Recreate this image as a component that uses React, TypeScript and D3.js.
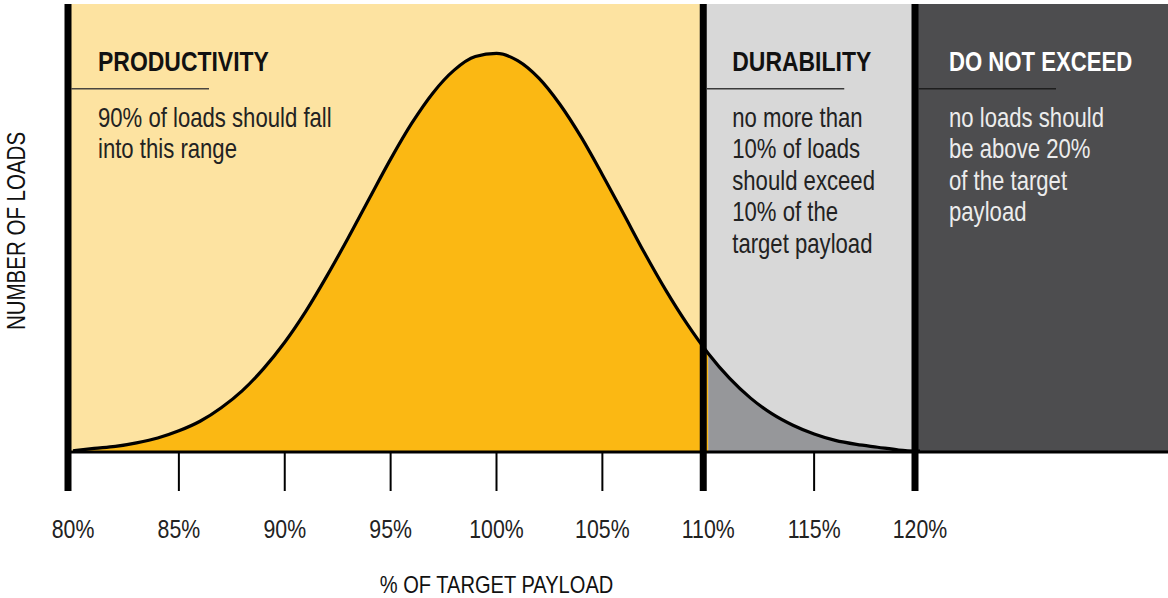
import React, { useEffect, useRef } from 'react';
import * as d3 from 'd3';

// payload as % of target, and the relative number of loads
const payloadPct = [
  80, 81, 82, 83, 84, 85, 86, 87, 88, 89,
  90, 91, 92, 93, 94, 95, 96, 97, 98, 99,
  100, 101, 102, 103, 104, 105, 106, 107, 108, 109,
  110, 111, 112, 113, 114, 115, 116, 117, 118, 119,
  120,
];
const loadCount = [
  0.3, 0.9, 1.4, 2.3, 3.5, 5.3, 7.7, 11.1, 15.4, 20.9,
  27.5, 35.3, 44.2, 53.7, 63.6, 73.4, 82.4, 90.0, 95.7, 99.1,
  99.9, 98.1, 93.7, 87.1, 78.9, 69.5, 59.7, 49.8, 40.5, 32.1,
  24.7, 18.5, 13.5, 9.6, 6.7, 4.5, 2.9, 1.9, 1.2, 0.5,
  0.2,
];

const tickValues = [80, 85, 90, 95, 100, 105, 110, 115, 120];
const tickLabels = ['80%', '85%', '90%', '95%', '100%', '105%', '110%', '115%', '120%'];

const zoneNames = ['PRODUCTIVITY', 'DURABILITY', 'DO NOT EXCEED'];
const zoneStart = [80, 110, 120];
const zoneNotes = [
  ['90% of loads should fall', 'into this range'],
  ['no more than', '10% of loads', 'should exceed', '10% of the', 'target payload'],
  ['no loads should', 'be above 20%', 'of the target', 'payload'],
];

const xTitle = '% OF TARGET PAYLOAD';
const yTitle = 'NUMBER OF LOADS';

const W = 1168;
const H = 598;
const FONT = '"Liberation Sans", Arial, sans-serif';
const NARROW = 0.82; // squeeze to look like a condensed face

const panelFill = ['#fde3a1', '#d8d8d8', '#4d4d4f'];
const areaFill = ['#fbb813', '#96979a'];
const titleColor = ['#111', '#111', '#fff'];
const noteColor = ['#222', '#222', '#ececec'];
const ruleColor = ['#4a4640', '#3a3a3a', '#1e1e1e'];
const textPad = [30, 29, 34];

// text drawn with a horizontal squeeze, anchored at (x, y)
function narrowText(parent: any, x: number, y: number, str: string, rotate = 0) {
  return parent.append('text')
    .attr('transform', `translate(${x},${y}) rotate(${rotate}) scale(${NARROW},1)`)
    .attr('font-family', FONT)
    .text(str);
}

export default function App() {
  const svgRef = useRef<SVGSVGElement>(null);

  useEffect(() => {
    const svg = d3.select(svgRef.current);
    svg.selectAll('*').remove();

    const top = 4;
    const base = 452;
    const tickBottom = 491;
    const x = d3.scaleLinear().domain([80, 120]).range([73, 920]);
    const y = d3.scaleLinear().domain([0, 100]).range([base, 53]);
    const divider = (v: number) => x(v) - 5;

    const data = payloadPct.map((p, i) => ({ p, n: loadCount[i] }));

    // background zones
    zoneStart.forEach((s, i) => {
      const x0 = divider(s);
      const x1 = i < zoneStart.length - 1 ? divider(zoneStart[i + 1]) : W;
      svg.append('rect')
        .attr('x', x0).attr('y', top)
        .attr('width', x1 - x0).attr('height', base - top)
        .attr('fill', panelFill[i]);
    });

    // filled area under the curve, split at 110%
    const area = d3.area<any>()
      .x(d => x(d.p))
      .y0(base)
      .y1(d => y(d.n))
      .curve(d3.curveMonotoneX);
    svg.append('path')
      .datum(data.filter(d => d.p <= 110))
      .attr('d', area)
      .attr('fill', areaFill[0]);
    svg.append('path')
      .datum(data.filter(d => d.p >= 110))
      .attr('d', area)
      .attr('fill', areaFill[1]);

    const line = d3.line<any>()
      .x(d => x(d.p))
      .y(d => y(d.n))
      .curve(d3.curveMonotoneX);
    svg.append('path')
      .datum(data)
      .attr('d', line)
      .attr('fill', 'none')
      .attr('stroke', '#000')
      .attr('stroke-width', 3.2);

    // baseline
    svg.append('line')
      .attr('x1', divider(80)).attr('x2', W)
      .attr('y1', base).attr('y2', base)
      .attr('stroke', '#000').attr('stroke-width', 3);

    // thin ticks
    tickValues.filter(v => zoneStart.indexOf(v) < 0).forEach(v => {
      svg.append('line')
        .attr('x1', x(v)).attr('x2', x(v))
        .attr('y1', base).attr('y2', tickBottom)
        .attr('stroke', '#000').attr('stroke-width', 2);
    });

    // thick zone dividers (the first is the y axis)
    zoneStart.forEach(s => {
      svg.append('line')
        .attr('x1', divider(s)).attr('x2', divider(s))
        .attr('y1', top).attr('y2', tickBottom)
        .attr('stroke', '#000').attr('stroke-width', 7);
    });

    // tick labels
    tickValues.forEach((v, i) => {
      narrowText(svg, x(v), 538, tickLabels[i])
        .attr('text-anchor', 'middle')
        .attr('font-size', 26)
        .attr('fill', '#222');
    });

    // axis titles
    narrowText(svg, (x(80) + x(120)) / 2, 593, xTitle)
      .attr('text-anchor', 'middle')
      .attr('font-size', 24.5)
      .attr('fill', '#111');
    narrowText(svg, 25, 231, yTitle, -90)
      .attr('text-anchor', 'middle')
      .attr('font-size', 25)
      .attr('fill', '#111');

    // zone headings and notes
    zoneStart.forEach((s, i) => {
      const lx = divider(s);
      const tx = lx + textPad[i];
      narrowText(svg, tx, 71, zoneNames[i])
        .attr('font-size', i === 2 ? 27 : 28)
        .attr('font-weight', 'bold')
        .attr('fill', titleColor[i]);
      svg.append('line')
        .attr('x1', lx + 3).attr('x2', lx + 141)
        .attr('y1', 88.7).attr('y2', 88.7)
        .attr('stroke', ruleColor[i]).attr('stroke-width', 1.6);
      zoneNotes[i].forEach((t, j) => {
        narrowText(svg, tx, 126.5 + j * 31.5, t)
          .attr('font-size', 27)
          .attr('fill', noteColor[i]);
      });
    });
  }, []);

  return (
    <svg ref={svgRef} width={W} height={H}
      style={{ position: 'absolute', left: 0, top: 0, background: '#fff' }} />
  );
}
